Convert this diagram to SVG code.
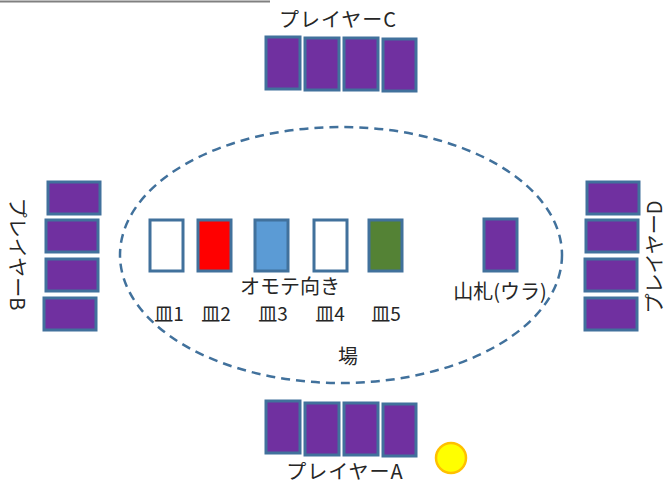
<svg xmlns="http://www.w3.org/2000/svg" width="667" height="485" viewBox="0 0 667 485">
<style>
.card{stroke:#41719C;stroke-width:3}
.back{fill:#7030A0}
.lbl{font-family:"Noto Sans CJK JP","Liberation Sans",sans-serif;font-size:20px;fill:#262626}
.sm{font-size:19px}
</style>
<rect width="667" height="485" fill="#fff"/>
<line x1="0" y1="1.5" x2="270" y2="1.5" stroke="#808080" stroke-width="2"/>
<g id="field">
<ellipse cx="341" cy="255" rx="221" ry="128" fill="none" stroke="#41719C" stroke-width="2.5" stroke-dasharray="9,6"/>
<text class="lbl" x="348" y="364" text-anchor="middle">場</text>
</g>
<g id="playerC">
<rect class="card back" x="266" y="37" width="34" height="52"/>
<rect class="card back" x="305" y="38" width="34" height="52"/>
<rect class="card back" x="344" y="38" width="34" height="52"/>
<rect class="card back" x="383" y="39" width="33" height="52"/>
<text class="lbl" x="338" y="27" text-anchor="middle" letter-spacing="1">プレイヤーC</text>
</g>
<g id="playerA">
<rect class="card back" x="266" y="401" width="34" height="52"/>
<rect class="card back" x="305" y="403" width="34" height="52"/>
<rect class="card back" x="344" y="403" width="34" height="52"/>
<rect class="card back" x="383" y="404" width="33" height="52"/>
<text class="lbl" x="345" y="479" text-anchor="middle" letter-spacing="1">プレイヤーA</text>
</g>
<g id="playerB">
<rect class="card back" x="48" y="182" width="52" height="32"/>
<rect class="card back" x="46" y="220" width="52" height="32"/>
<rect class="card back" x="46" y="259" width="52" height="32"/>
<rect class="card back" x="44" y="298" width="52" height="32"/>
<text class="lbl" transform="translate(10,254) rotate(90)" text-anchor="middle">プレイヤーB</text>
</g>
<g id="playerD">
<rect class="card back" x="587" y="182" width="52" height="32"/>
<rect class="card back" x="586" y="220" width="52" height="32"/>
<rect class="card back" x="585" y="259" width="52" height="32"/>
<rect class="card back" x="585" y="298" width="52" height="32"/>
<text class="lbl" transform="translate(662,257) rotate(-90)" text-anchor="middle">プレイヤーD</text>
</g>
<g id="plate1">
<rect class="card" x="150" y="220" width="33" height="51" fill="#fff"/>
<text class="lbl sm" x="169" y="321" text-anchor="middle">皿1</text>
</g>
<g id="plate2">
<rect class="card" x="198" y="220" width="33" height="51" fill="#FF0000"/>
<text class="lbl sm" x="216" y="321" text-anchor="middle">皿2</text>
</g>
<g id="plate3">
<rect class="card" x="255" y="220" width="33" height="51" fill="#5B9BD5"/>
<text class="lbl sm" x="273" y="321" text-anchor="middle">皿3</text>
</g>
<g id="plate4">
<rect class="card" x="314" y="220" width="33" height="51" fill="#fff"/>
<text class="lbl sm" x="330" y="321" text-anchor="middle">皿4</text>
</g>
<g id="plate5">
<rect class="card" x="369" y="220" width="33" height="51" fill="#548235"/>
<text class="lbl sm" x="386" y="321" text-anchor="middle">皿5</text>
</g>
<g id="faceup">
<text class="lbl" x="290" y="294" text-anchor="middle">オモテ向き</text>
</g>
<g id="deck">
<rect class="card back" x="484" y="219" width="33" height="52"/>
<text class="lbl" x="500" y="299" text-anchor="middle">山札(ウラ)</text>
</g>
<g id="token">
<circle cx="451" cy="458" r="15" fill="#FFFF00" stroke="#FFC000" stroke-width="2.5"/>
</g>
<g id="connectors"/>
</svg>
